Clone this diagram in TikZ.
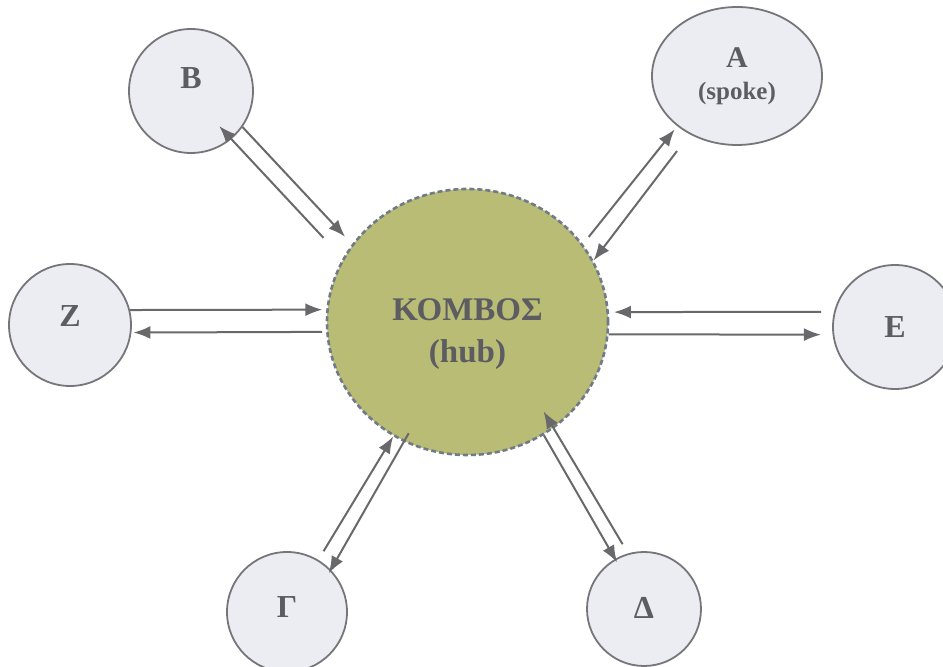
\documentclass[tikz,border=0pt]{standalone}
\usepackage{fontspec}
\setmainfont{Liberation Serif}
\usetikzlibrary{arrows.meta,shapes.geometric}
\definecolor{spokefill}{RGB}{236,236,243}
\definecolor{spokeline}{RGB}{118,118,122}
\definecolor{hubfill}{RGB}{184,188,116}
\definecolor{hubline}{RGB}{112,122,138}
\definecolor{arrowcolor}{RGB}{105,105,108}
\definecolor{labelcolor}{RGB}{92,92,98}

\begin{document}
\begin{tikzpicture}[x=0.5pt, y=-0.5pt,
  spoke/.style={circle, draw=spokeline, fill=spokefill, line width=0.9pt, inner sep=0pt,
    text=labelcolor, font=\fontsize{16}{19}\selectfont\bfseries, text height=10.5pt},
  hubnode/.style={ellipse, draw=hubline, fill=hubfill, line width=1.3pt,
    dash pattern=on 2.5pt off 1.5pt, inner sep=0pt,
    minimum width=140.5pt, minimum height=133pt},
  hubtext/.style={text=labelcolor, align=center, yshift=-6pt,
    font=\fontsize{16.5}{21}\selectfont\bfseries},
  conn/.style={draw=arrowcolor, line width=1pt, -{Latex[length=8.5pt,width=6.5pt]}}]
  \useasboundingbox (0,0) rectangle (943,667);
  \clip (0,0) rectangle (943,667);

  % hub and spokes
  \node[hubnode, label={[hubtext]center:ΚΟΜΒΟΣ\\(hub)}] (hub) at (467.5,322) {};
  \node[spoke, minimum size=62pt, text depth=13pt] (spokeB) at (191,91) {Β};
  \node[ellipse, draw=spokeline, fill=spokefill, line width=0.9pt, inner sep=0pt,
    minimum width=85pt, minimum height=69pt, text=labelcolor, align=center,
    font=\fontsize{15}{18}\selectfont\bfseries] (spokeA) at (737,76)
    {Α\\[-2pt]{\fontsize{12.5}{15}\selectfont(spoke)}};
  \node[spoke, minimum size=61pt, text depth=9pt] (spokeZ) at (70,325) {Ζ};
  \node[spoke, minimum size=62pt, text depth=0pt] (spokeE) at (895,327) {Ε};
  \node[spoke, minimum size=60pt, text depth=5pt] (spokeG) at (287,612) {Γ};
  \node[spoke, minimum size=57pt, text depth=1pt] (spokeD) at (644,609) {Δ};

  % connectors
  \draw[conn, shorten >=2pt] (spokeZ.14) -- (hub.175);
  \draw[conn, shorten <=2pt, shorten >=1pt] (hub.184) -- (spokeZ.-7);
  \draw[conn, shorten <=6.4pt, shorten >=2.5pt] (spokeE.166) -- (hub.4);
  \draw[conn, shorten >=5.8pt] (hub.-5) -- (spokeE.187);
  \draw[conn, shorten <=14pt, shorten >=-9pt] (hub.153) -- (spokeB.-50);
  \draw[conn, shorten >=5pt] (spokeB.-35) -- (hub.146);
  \draw[conn, shorten <=4.6pt, shorten >=2pt] (hub.34) -- (spokeA.220);
  \draw[conn, shorten <=10.5pt] (spokeA.231) -- (hub.26);
  \draw[conn, shorten <=5pt] (spokeG.59) -- (hub.237);
  \draw[conn, shorten <=-5pt, shorten >=-2pt] (hub.242) -- (spokeG.44);
  \draw[conn, shorten <=5.3pt, shorten >=-10pt] (spokeD.106) -- (hub.-51);
  \draw[conn, shorten >=-2pt] (hub.-56) -- (spokeD.120);
\end{tikzpicture}
\end{document}
